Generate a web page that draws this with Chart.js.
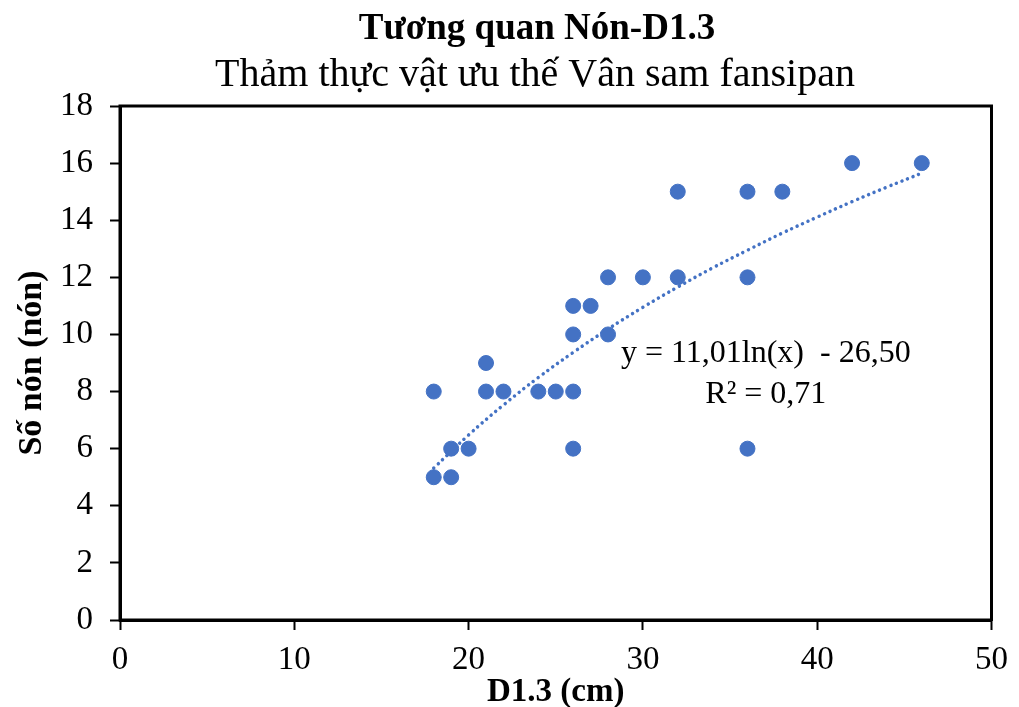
<!DOCTYPE html>
<html>
<head>
<meta charset="utf-8">
<script src="https://cdn.jsdelivr.net/npm/chart.js@4.4.0/dist/chart.umd.min.js"></script>
<style>
	html, body { margin: 0; padding: 0; background: #fff; }
	#wrapper { width: 1019px; height: 707px; }
</style>
</head>
<body>
<div id="wrapper"><canvas id="scatter-non"></canvas></div>
<script>
// D1.3 (cm) vs number of cones
const d13 = [18, 18, 19, 19, 20, 21, 21, 22, 24, 25, 26, 26, 26, 26, 27, 28, 28, 30, 32, 32, 36, 36, 36, 38, 42, 46];
const soNon = [5, 8, 5, 6, 6, 8, 9, 8, 8, 8, 6, 8, 10, 11, 11, 10, 12, 12, 12, 15, 6, 12, 15, 15, 16, 16];

// log trendline, values
const trendX = [18, 20, 22, 24, 26, 28, 30, 32, 34, 36, 38, 40, 42, 44, 46];
const trendY = [5.32, 6.48, 7.53, 8.49, 9.37, 10.19, 10.95, 11.66, 12.33, 12.95, 13.55, 14.11, 14.65, 15.16, 15.65];

const xTicks = [0, 10, 20, 30, 40, 50];
const yTicks = [0, 2, 4, 6, 8, 10, 12, 14, 16, 18];

const titleText = "Tương quan Nón-D1.3";
const subtitleText = "Thảm thực vật ưu thế Vân sam fansipan";
const equationText = "y = 11,01ln(x)  - 26,50";
const r2Text = "R² = 0,71";

const FONT = "'Liberation Serif', 'Times New Roman', serif";
const BLUE = "#4472C4";

// titles (sit a bit right of centre, like the original), box round the plot, equation label
const decorPlugin = {
	id: "decor",
	afterDraw(chart) {
		let { ctx } = chart;
		ctx.save();
		ctx.fillStyle = "#000";
		ctx.textAlign = "center";
		ctx.textBaseline = "alphabetic";
		ctx.font = "bold 37px " + FONT;
		ctx.fillText(titleText, 537, 39);
		ctx.font = "40px " + FONT;
		ctx.fillText(subtitleText, 535, 86);
		ctx.restore();
	},
	afterDatasetsDraw(chart) {
		let { ctx, chartArea } = chart;
		ctx.save();
		ctx.strokeStyle = "#000";
		ctx.lineWidth = 3;
		ctx.strokeRect(chartArea.left, chartArea.top, chartArea.right - chartArea.left, chartArea.bottom - chartArea.top);

		ctx.fillStyle = "#000";
		ctx.font = "32px " + FONT;
		ctx.textAlign = "center";
		ctx.textBaseline = "alphabetic";
		let w = chartArea.right - chartArea.left;
		let h = chartArea.bottom - chartArea.top;
		ctx.fillText(equationText, chartArea.left + w * 0.741, chartArea.top + h * 0.498);
		ctx.fillText(r2Text, chartArea.left + w * 0.741, chartArea.top + h * 0.578);
		ctx.restore();
	},
};

let ctx = document.getElementById("scatter-non").getContext("2d");

new Chart(ctx, {
	type: "scatter",
	data: {
		datasets: [
			{
				label: "Số nón",
				data: d13.map((x, i) => ({ x: x, y: soNon[i] })),
				backgroundColor: BLUE,
				borderColor: BLUE,
				pointRadius: 7.5,
				pointHoverRadius: 7.5,
				order: 1,
			},
			{
				label: "Trend",
				type: "line",
				data: trendX.map((x, i) => ({ x: x, y: trendY[i] })),
				borderColor: BLUE,
				borderWidth: 3.5,
				borderDash: [0.01, 6],
				borderCapStyle: "round",
				pointRadius: 0,
				tension: 0.4,
				fill: false,
				order: 2,
			},
		],
	},
	plugins: [decorPlugin],
	options: {
		responsive: true,
		maintainAspectRatio: false,
		animation: false,
		layout: { padding: { left: 12, right: 24, top: 106, bottom: 0 } },
		scales: {
			x: {
				type: "linear",
				min: 0,
				max: 50,
				afterBuildTicks: (axis) => { axis.ticks = xTicks.map((v) => ({ value: v })); },
				afterFit: (axis) => { axis.height = 87; },
				grid: {
					display: true,
					drawOnChartArea: false,
					drawTicks: true,
					tickLength: 10,
					tickWidth: 2,
					tickColor: "#000",
				},
				border: { display: true, color: "#000", width: 3 },
				ticks: { color: "#000", font: { family: FONT, size: 33 }, padding: 11 },
				title: {
					display: true,
					text: "D1.3 (cm)",
					color: "#000",
					font: { family: FONT, size: 33, weight: "bold" },
					padding: { top: 0, bottom: -5 },
				},
			},
			y: {
				type: "linear",
				min: 0,
				max: 18,
				afterBuildTicks: (axis) => { axis.ticks = yTicks.map((v) => ({ value: v })); },
				afterFit: (axis) => { axis.width = 108; },
				grid: {
					display: true,
					drawOnChartArea: false,
					drawTicks: true,
					tickLength: 10,
					tickWidth: 2,
					tickColor: "#000",
				},
				border: { display: true, color: "#000", width: 3 },
				ticks: { color: "#000", font: { family: FONT, size: 33 }, padding: 17 },
				title: {
					display: true,
					text: "Số nón (nón)",
					color: "#000",
					font: { family: FONT, size: 34, weight: "bold" },
					padding: { top: 0, bottom: 0 },
				},
			},
		},
		plugins: {
			legend: { display: false },
			tooltip: { enabled: false },
			title: { display: false },
			subtitle: { display: false },
		},
	},
});
</script>
</body>
</html>
